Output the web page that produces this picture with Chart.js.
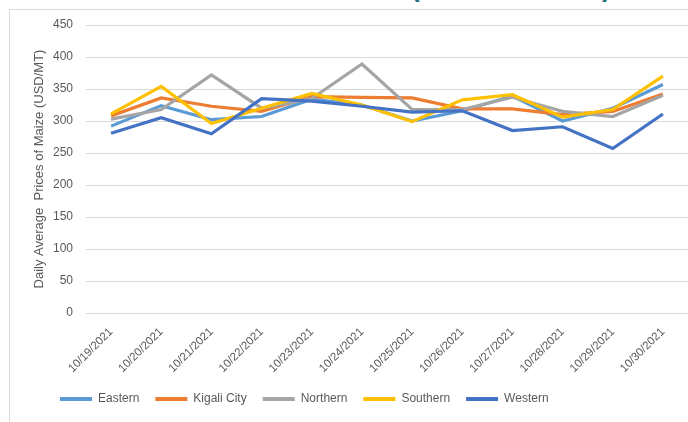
<!DOCTYPE html>
<html>
<head>
<meta charset="utf-8">
<script src="https://cdn.jsdelivr.net/npm/chart.js@4/dist/chart.umd.min.js"></script>
<style>
  html, body { margin: 0; padding: 0; background: #fff; }
  #wrap { position: relative; width: 688px; height: 422px; overflow: hidden; }
  #frame { position: absolute; left: 9px; top: 9px; width: 720px; height: 440px; border: 1px solid #d9d9d9; }
  .paren { position: absolute; top: -27px; font: bold 26px 'Liberation Sans', Arial, sans-serif; color: #1d6f72; }
  canvas { position: absolute; left: 0; top: 0; }
</style>
</head>
<body>
<div id="wrap">
  <div id="frame"></div>
  <span class="paren" style="left:411px">(</span>
  <span class="paren" style="left:602px">)</span>
  <canvas id="chart" width="688" height="422"></canvas>
</div>
<script>
// values
const dates = ['10/19/2021', '10/20/2021', '10/21/2021', '10/22/2021', '10/23/2021', '10/24/2021',
               '10/25/2021', '10/26/2021', '10/27/2021', '10/28/2021', '10/29/2021', '10/30/2021'];
const eastern  = [292, 324, 302, 307, 334, 325, 300, 316, 339, 300, 320, 357];
const kigali   = [308, 336, 323, 315, 338, 337, 336, 319, 319, 310, 315, 342];
const northern = [303, 318, 372, 320, 335, 389, 318, 318, 337, 315, 307, 340];
const southern = [311, 354, 296, 320, 343, 325, 299, 333, 341, 306, 318, 370];
const western  = [281, 305, 280, 335, 331, 323, 314, 316, 285, 291, 257, 311];
const yTicks = [0, 50, 100, 150, 200, 250, 300, 350, 400, 450];

const greyText = '#595959';
Chart.defaults.font.family = "'Liberation Sans', Arial, sans-serif";
Chart.defaults.color = greyText;

function series(label, data, color) {
  return {
    label, data,
    borderColor: color,
    backgroundColor: color,
    borderWidth: 3.2,
    pointRadius: 0,
    tension: 0,
    fill: false
  };
}

// Excel draws the last series on top; Chart.js draws index 0 on top, so reverse here
const datasets = [
  series('Western', western, '#4472C4'),
  series('Southern', southern, '#FFC000'),
  series('Northern', northern, '#A5A5A5'),
  series('Kigali City', kigali, '#ED7D31'),
  series('Eastern', eastern, '#5B9BD5')
];

// nudge the legend so it sits where the reference one does
const legendShift = {
  id: 'legendShift',
  afterLayout(chart) {
    const lg = chart.legend;
    if (!lg) return;
    lg.left = 44;
    lg.top -= 4;
    lg.bottom -= 4;
  }
};

new Chart(document.getElementById('chart'), {
  type: 'line',
  data: { labels: dates, datasets },
  plugins: [legendShift],
  options: {
    responsive: false,
    animation: false,
    layout: { padding: { left: 30, top: 25, right: 0, bottom: 3 } },
    scales: {
      x: {
        offset: true,
        grid: { display: false },
        border: { display: false },
        ticks: {
          autoSkip: false,
          maxRotation: 45,
          minRotation: 45,
          padding: 4,
          font: { size: 11.5 },
          color: greyText
        },
        afterFit(scale) { scale.height = 68; }
      },
      y: {
        min: 0,
        max: 450,
        afterBuildTicks(scale) { scale.ticks = yTicks.map(v => ({ value: v })); },
        grid: { color: '#d9d9d9', lineWidth: 1, drawTicks: false },
        border: { display: false },
        ticks: { padding: 13, font: { size: 12 }, color: greyText },
        title: {
          display: true,
          text: 'Daily Average  Prices of Maize (USD/MT)',
          font: { size: 13 },
          color: greyText,
          padding: { top: 2, bottom: 0 }
        },
        afterFit(scale) { scale.width = 56; }
      }
    },
    plugins: {
      tooltip: { enabled: false },
      legend: {
        position: 'bottom',
        align: 'start',
        reverse: true,
        labels: {
          boxWidth: 32,
          boxHeight: 4,
          padding: 16,
          font: { size: 12 },
          color: greyText,
          generateLabels(chart) {
            const items = Chart.defaults.plugins.legend.labels.generateLabels(chart);
            items.forEach(it => { it.lineWidth = 0; it.fillStyle = it.strokeStyle; });
            return items;
          }
        }
      }
    }
  }
});
</script>
</body>
</html>
